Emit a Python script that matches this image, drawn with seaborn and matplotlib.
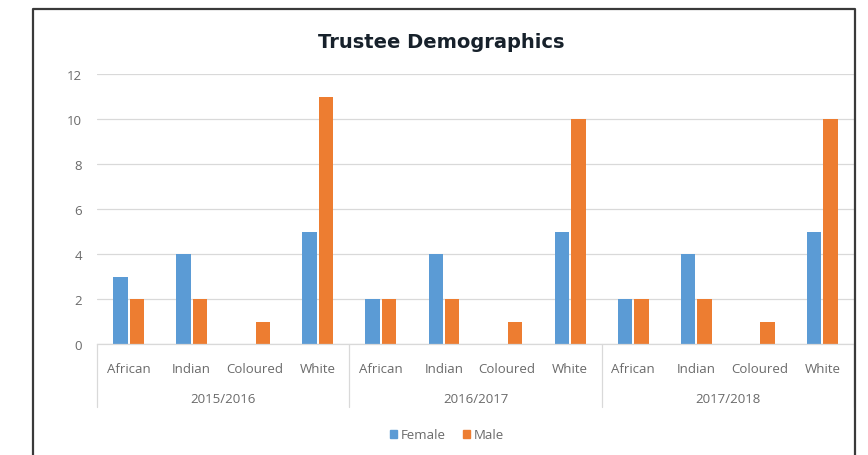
import matplotlib
matplotlib.use("Agg")
import matplotlib.pyplot as plt
import matplotlib.patches as mpatches
from matplotlib.lines import Line2D
import pandas as pd
import seaborn as sns

# Data
years = ["2015/2016", "2016/2017", "2017/2018"]
groups = ["African", "Indian", "Coloured", "White"]
female = [3, 4, 0, 5, 2, 4, 0, 5, 2, 4, 0, 5]
male = [2, 2, 1, 11, 2, 2, 1, 10, 2, 2, 1, 10]
y_ticks = [0, 2, 4, 6, 8, 10, 12]

slots = [f"{y}|{g}" for y in years for g in groups]
df = pd.DataFrame({
    "slot": slots * 2,
    "Sex": ["Female"] * len(slots) + ["Male"] * len(slots),
    "Count": female + male,
})

BLUE = "#5B9BD5"
ORANGE = "#ED7D31"
TICK = "#6A6A6A"
GRID = "#D9D9D9"
FS = 9.5

sns.set_theme(style="white")
plt.rcParams["font.family"] = ["Open Sans", "DejaVu Sans"]

W, H = 868, 456
fig = plt.figure(figsize=(W / 100, H / 100), dpi=100)
ax = fig.add_axes([97 / W, 1 - 345 / H, (854 - 97) / W, (345 - 75) / H])

sns.barplot(data=df, x="slot", y="Count", hue="Sex", order=slots,
            palette={"Female": BLUE, "Male": ORANGE},
            width=0.52, gap=0.12, ax=ax, legend=False, saturation=1,
            linewidth=0, edgecolor="none")

ax.set_xlim(-0.5, len(slots) - 0.5)
ax.set_ylim(0, 12)
ax.set_yticks(y_ticks)
ax.set_yticklabels([str(v) for v in y_ticks], color=TICK, fontsize=FS)
ax.tick_params(axis="y", length=0, pad=11)
ax.yaxis.grid(True, color=GRID, linewidth=0.9)
ax.set_axisbelow(True)
for s in ["top", "right", "left"]:
    ax.spines[s].set_visible(False)
ax.spines["bottom"].set_color(GRID)
ax.spines["bottom"].set_linewidth(0.9)
ax.set_xlabel("")
ax.set_ylabel("")

# Two-level category axis: category names, then year groups
ax.set_xticks(range(len(slots)))
ax.set_xticklabels([g for _ in years for g in groups], color=TICK, fontsize=FS)
ax.tick_params(axis="x", length=0, pad=13)

trans = ax.get_xaxis_transform()
for i, y in enumerate(years):
    ax.text(i * len(groups) + (len(groups) - 1) / 2, -55 / 270, y, transform=trans,
            ha="center", va="center", fontsize=FS, color=TICK)
for k in range(len(years) + 1):
    x = k * len(groups) - 0.5
    ax.add_line(Line2D([x, x], [0, -63 / 270], transform=trans, color=GRID,
                       linewidth=0.9, clip_on=False))

# Title
fig.text(441 / W, 1 - 42 / H, "Trustee Demographics", ha="center", va="center",
         fontsize=14, fontweight="bold", color="#17212B",
         family=["DejaVu Sans"])

# Legend
handles = [mpatches.Patch(color=BLUE, label="Female"),
           mpatches.Patch(color=ORANGE, label="Male")]
fig.legend(handles=handles, loc="center", bbox_to_anchor=(447 / W, 1 - 436 / H),
           ncol=2, frameon=False, fontsize=FS, handlelength=0.55, handleheight=0.55,
           handletextpad=0.3, columnspacing=1.3, labelcolor=TICK)

# Frame around the figure (open at the bottom)
fig.add_artist(Line2D([33 / W, 33 / W, 855 / W, 855 / W],
                      [0, 1 - 10 / H, 1 - 10 / H, 0],
                      transform=fig.transFigure, color="#3A3A3A", linewidth=1.6))

fig.savefig("out.png", dpi=100)
